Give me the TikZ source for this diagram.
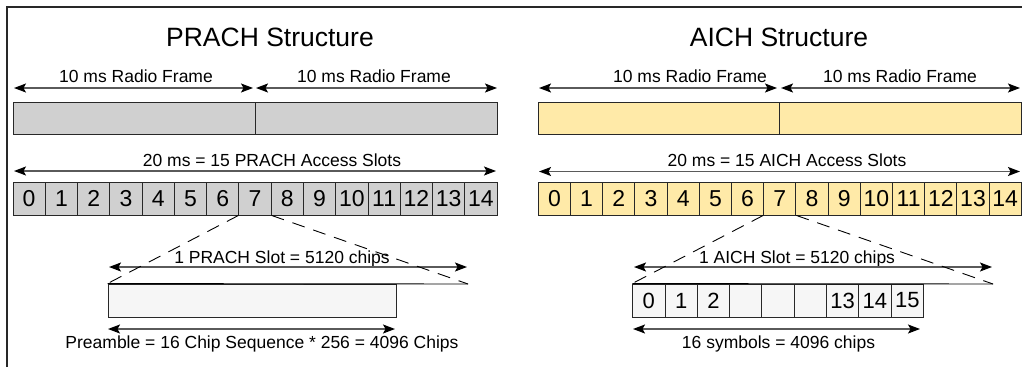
\documentclass[tikz,border=0pt]{standalone}
\usepackage{fontspec}
\setmainfont{Liberation Sans}
\usetikzlibrary{arrows.meta}
\definecolor{barGray}{RGB}{208,208,208}
\definecolor{barYellow}{RGB}{255,234,168}
\definecolor{lightBox}{RGB}{246,246,246}
\definecolor{edgeC}{RGB}{40,40,40}
\definecolor{dimC}{RGB}{90,90,90}
\begin{document}
\begin{tikzpicture}[x=1pt,y=-1pt,
  ttl/.style={anchor=base,inner sep=0pt,font=\fontsize{26.5}{30}\selectfont},
  lbl/.style={anchor=base,inner sep=0pt,font=\fontsize{17.5}{20}\selectfont},
  barbox/.style={draw=edgeC,line width=0.9pt,inner sep=0pt,minimum height=32.5pt},
  slotcell/.style={draw=edgeC,line width=0.9pt,inner sep=0pt,minimum width=32.27pt,minimum height=32.5pt,font=\fontsize{23}{26}\selectfont},
  symcell/.style={draw=edgeC,line width=0.9pt,inner sep=0pt,fill=lightBox,minimum width=32.3pt,minimum height=33pt,font=\fontsize{22}{25}\selectfont},
  dim/.style={draw=dimC,line width=1.3pt,{Stealth[length=12pt,width=9pt,inset=2.5pt,color=black]}-{Stealth[length=12pt,width=9pt,inset=2.5pt,color=black]}},
  zoomline/.style={draw=black,line width=0.9pt,dash pattern=on 13pt off 9pt},
  frameline/.style={draw=edgeC,line width=1.2pt}
]
\useasboundingbox (0,0) rectangle (1022,367);
% frame
\coordinate (fTL) at (7,7);
\coordinate (fTR) at (1022,7);
\coordinate (fBL) at (7,367);
\draw[frameline] (fBL) -- (fTL) -- (fTR);

% ---------------- PRACH ----------------
\node[ttl] (t1) at (270,46.7) {PRACH Structure};
\node[lbl] (rf1) at (136,82) {10 ms Radio Frame};
\node[lbl] (rf2) at (374,82) {10 ms Radio Frame};
\coordinate (r1a) at (14,88); \coordinate (r1b) at (253,88);
\coordinate (r1c) at (256,88); \coordinate (r1d) at (497,88);
\draw[dim] (r1a) -- (r1b);
\draw[dim] (r1c) -- (r1d);
\node[barbox,fill=barGray,minimum width=242pt] (g1) at (134,118.25) {};
\node[barbox,fill=barGray,minimum width=242pt] (g2) at (376,118.25) {};

\node[lbl] (sl1) at (272,166.7) {20 ms = 15 PRACH Access Slots};
\coordinate (s1a) at (14,171); \coordinate (s1b) at (496,171);
\draw[dim] (s1a) -- (s1b);
\foreach \i in {0,...,14}
  \node[slotcell,fill=barGray] (p\i) at ({13+(\i+0.5)*32.27},198.75) {\i};

\node[lbl] (ps) at (282,263) {1 PRACH Slot = 5120 chips};
\coordinate (pa) at (109,267); \coordinate (pb) at (467,267);
\draw[dim] (pa) -- (pb);
\node[draw=edgeC,line width=0.9pt,fill=lightBox,inner sep=0pt,minimum width=288.5pt,minimum height=33pt] (pre) at (252.25,300.5) {};
\coordinate (pe) at (468,284);
\draw[line width=0.9pt] (pre.north west) -- (pe);
\draw[zoomline] (p7.south west) -- (pre.north west);
\draw[zoomline] (p7.south east) -- (pe);
\coordinate (qa) at (108,329); \coordinate (qb) at (395,329);
\draw[dim] (qa) -- (qb);
\node[lbl] (pl) at (262,348) {Preamble = 16 Chip Sequence * 256 = 4096 Chips};

% ---------------- AICH ----------------
\node[ttl] (t2) at (779,46.7) {AICH Structure};
\node[lbl] (rf3) at (690,82) {10 ms Radio Frame};
\node[lbl] (rf4) at (900,82) {10 ms Radio Frame};
\coordinate (r2a) at (539,88); \coordinate (r2b) at (777,88);
\coordinate (r2c) at (781,88); \coordinate (r2d) at (1020,88);
\draw[dim] (r2a) -- (r2b);
\draw[dim] (r2c) -- (r2d);
\node[barbox,fill=barYellow,minimum width=241.4pt] (y1) at (659,118.25) {};
\node[barbox,fill=barYellow,minimum width=241.4pt] (y2) at (900.4,118.25) {};

\node[lbl] (sl2) at (787,166.7) {20 ms = 15 AICH Access Slots};
\coordinate (s2a) at (539,171.5); \coordinate (s2b) at (1020,171.5);
\draw[dim] (s2a) -- (s2b);
\foreach \i in {0,...,14}
  \node[slotcell,fill=barYellow] (a\i) at ({538.3+(\i+0.5)*32.2},198.75) {\i};

\node[lbl] (as) at (797,263) {1 AICH Slot = 5120 chips};
\coordinate (aa) at (634,267); \coordinate (ab) at (992,267);
\draw[dim] (aa) -- (ab);
\foreach \j/\t in {0/0,1/1,2/2,3/,4/,5/,6/13,7/14,8/15}
  \node[symcell] (c\j) at ({632.7+(\j+0.5)*32.3},300.5) {\t};
\coordinate (ae) at (993,284);
\draw[line width=0.9pt] (c0.north west) -- (ae);
\draw[zoomline] (a7.south west) -- (c0.north west);
\draw[zoomline] (a7.south east) -- (ae);
\coordinate (ba) at (633,329); \coordinate (bb) at (920,329);
\draw[dim] (ba) -- (bb);
\node[lbl] (al) at (778.5,348) {16 symbols = 4096 chips};
\end{tikzpicture}
\end{document}
